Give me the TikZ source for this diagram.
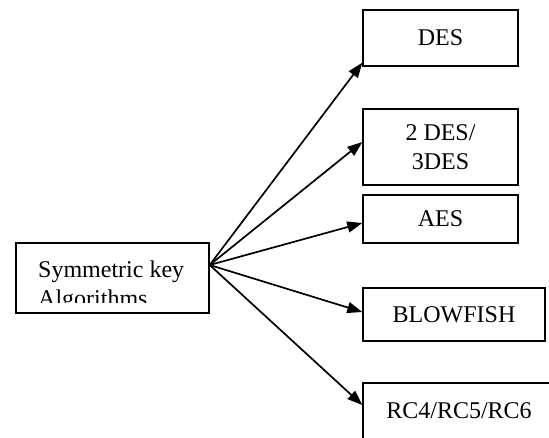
\documentclass[tikz,border=0pt]{standalone}
\usepackage{fontspec}
\setmainfont{Liberation Serif}
\usetikzlibrary{arrows.meta}
\begin{document}
\begin{tikzpicture}[x=1pt,y=-1pt,
  box/.style={draw, line width=1.4pt, inner sep=0pt, align=center,
    font=\fontsize{24}{29}\selectfont},
  lbl/.style={anchor=base west, inner sep=0pt, font=\fontsize{24}{29}\selectfont},
  conn/.style={line width=1.7pt, -{Triangle[length=15pt,width=11pt]}}]
\useasboundingbox (0,0) rectangle (549,437);
\begin{scope}
\clip (0,0) rectangle (549,437);
\node[box, minimum width=193pt, minimum height=70pt] (src) at (112.5,278) {};
\node[box, minimum width=155pt, minimum height=56pt] (des) at (440.5,38) {DES};
\node[box, minimum width=155pt, minimum height=76pt] (des2) at (440.5,147) {2 DES/\\3DES};
\node[box, minimum width=155pt, minimum height=48pt] (aes) at (440.5,219) {AES};
\node[box, minimum width=182pt, minimum height=53pt] (bf) at (454,314.5) {BLOWFISH};
\node[box, minimum width=192pt, minimum height=56pt] (rc) at (459,411) {RC4/RC5/RC6};
\end{scope}
\begin{scope}
\clip (17,244) rectangle (208,302);
\node[lbl] (srcA) at (38,277) {Symmetric key};
\node[lbl] (srcB) at (38,306) {Algorithms};
\end{scope}
\coordinate (o) at ([yshift=13pt]src.east);
\draw[conn] (o) -- ([yshift=4pt]des.south west);
\draw[conn] (o) -- ([yshift=5pt]des2.west);
\draw[conn] (o) -- ([yshift=-4pt]aes.west);
\draw[conn] (o) -- ([yshift=2.5pt]bf.west);
\draw[conn] (o) -- ([yshift=6pt]rc.west);
\end{tikzpicture}
\end{document}
